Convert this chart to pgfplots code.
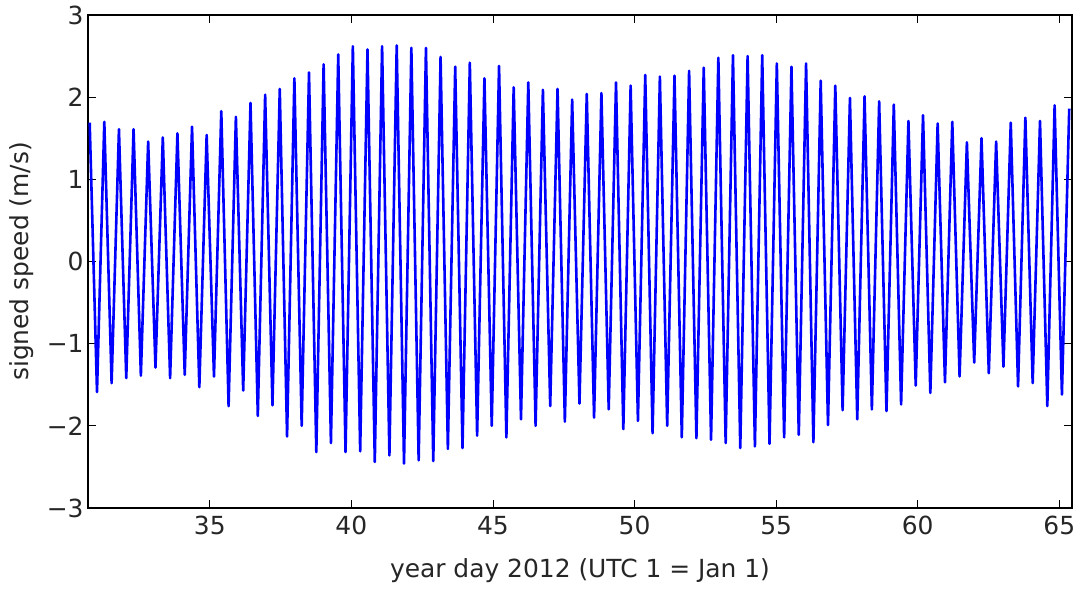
\documentclass[border=0pt]{standalone}
\usepackage{fontspec}
\setmainfont{DejaVu Sans}
\usepackage{pgfplots}
\pgfplotsset{compat=1.18}
\begin{document}
\begin{tikzpicture}
\begin{axis}[
  name=ax,
  scale only axis,
  width=984bp, height=493bp,
  xmin=30.70, xmax=65.45, ymin=-3, ymax=3,
  xtick={35,40,45,50,55,60,65},
  xticklabels={35,40,45,50,55,60,65},
  ytick={-3,-2,-1,0,1,2,3},
  yticklabels={−3,−2,−1,0,1,2,3},
  tick align=inside,
  major tick length=8bp,
  tick style={black, line width=0.8bp},
  axis line style={black, line width=1.2bp},
  tick label style={font=\fontsize{25}{28}\selectfont, text=black!85},
  label style={font=\fontsize{25}{28}\selectfont, text=black!85},
  xticklabel style={yshift=-5bp},
  yticklabel style={xshift=-1bp},
  xlabel={year day 2012 (UTC 1 = Jan 1)},
  ylabel={signed speed (m/s)},
  xlabel style={yshift=-16bp},
  ylabel style={yshift=6bp},
  clip=true,
]
\addplot[color={rgb,255:red,0;green,0;blue,255}, line width=2.6bp, line join=round] coordinates {
(30.760,1.69)(31.018,-1.59)(31.276,1.70)(31.534,-1.48)(31.793,1.61)(32.051,-1.42)(32.309,1.61)(32.567,-1.39)
(32.825,1.46)(33.083,-1.29)(33.342,1.51)(33.600,-1.42)(33.858,1.56)(34.116,-1.38)(34.374,1.64)(34.632,-1.53)
(34.890,1.54)(35.149,-1.40)(35.407,1.83)(35.665,-1.76)(35.923,1.76)(36.181,-1.57)(36.439,1.93)(36.697,-1.88)
(36.956,2.03)(37.214,-1.75)(37.472,2.10)(37.730,-2.13)(37.988,2.23)(38.246,-2.00)(38.505,2.30)(38.763,-2.32)
(39.021,2.40)(39.279,-2.21)(39.537,2.52)(39.795,-2.32)(40.053,2.62)(40.312,-2.31)(40.570,2.58)(40.828,-2.44)
(41.086,2.62)(41.344,-2.36)(41.602,2.63)(41.860,-2.46)(42.119,2.60)(42.377,-2.42)(42.635,2.60)(42.893,-2.43)
(43.151,2.49)(43.409,-2.28)(43.668,2.37)(43.926,-2.27)(44.184,2.42)(44.442,-2.12)(44.700,2.23)(44.958,-2.00)
(45.216,2.38)(45.475,-2.14)(45.733,2.12)(45.991,-1.92)(46.249,2.18)(46.507,-2.00)(46.765,2.09)(47.023,-1.76)
(47.282,2.10)(47.540,-1.95)(47.798,1.97)(48.056,-1.73)(48.314,2.04)(48.572,-1.90)(48.831,2.05)(49.089,-1.80)
(49.347,2.18)(49.605,-2.04)(49.863,2.14)(50.121,-1.94)(50.379,2.27)(50.638,-2.09)(50.896,2.25)(51.154,-2.00)
(51.412,2.26)(51.670,-2.14)(51.928,2.32)(52.186,-2.15)(52.445,2.36)(52.703,-2.17)(52.961,2.48)(53.219,-2.21)
(53.477,2.51)(53.735,-2.27)(53.994,2.50)(54.252,-2.25)(54.510,2.51)(54.768,-2.22)(55.026,2.41)(55.284,-2.14)
(55.542,2.37)(55.801,-2.11)(56.059,2.41)(56.317,-2.20)(56.575,2.20)(56.833,-1.99)(57.091,2.14)(57.349,-1.81)
(57.608,1.99)(57.866,-1.92)(58.124,2.01)(58.382,-1.80)(58.640,1.95)(58.898,-1.82)(59.157,1.91)(59.415,-1.74)
(59.673,1.71)(59.931,-1.51)(60.189,1.78)(60.447,-1.60)(60.705,1.68)(60.964,-1.47)(61.222,1.70)(61.480,-1.40)
(61.738,1.45)(61.996,-1.23)(62.254,1.50)(62.512,-1.36)(62.771,1.46)(63.029,-1.28)(63.287,1.69)(63.545,-1.52)
(63.803,1.75)(64.061,-1.48)(64.320,1.71)(64.578,-1.76)(64.836,1.90)(65.094,-1.62)(65.352,1.86)
};
\end{axis}
\pgfresetboundingbox
\path[use as bounding box] ([xshift=-88bp,yshift=-82bp]ax.south west) rectangle ([xshift=6bp,yshift=15bp]ax.north east);
\end{tikzpicture}
\end{document}
